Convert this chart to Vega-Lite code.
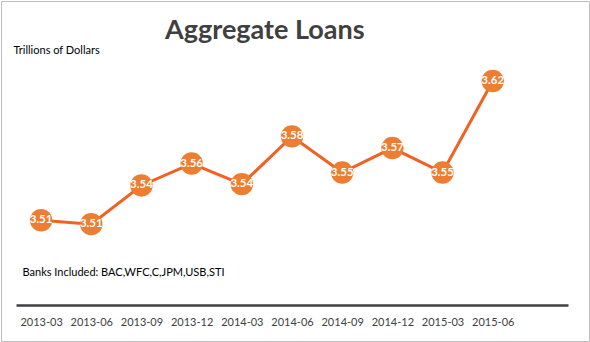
{
  "$schema": "https://vega.github.io/schema/vega-lite/v6.json",
  "width": 588,
  "height": 340,
  "padding": 1,
  "autosize": "none",
  "background": "white",
  "title": {
    "text": "Aggregate Loans",
    "anchor": "start",
    "frame": "group",
    "dx": 164,
    "offset": -44,
    "fontSize": 27,
    "font": "Lato",
    "fontWeight": "bold",
    "color": "#404040"
  },
  "data": {
    "values": [
      {"q": "2013-03", "v": 3.512},
      {"q": "2013-06", "v": 3.509},
      {"q": "2013-09", "v": 3.539},
      {"q": "2013-12", "v": 3.556},
      {"q": "2014-03", "v": 3.540},
      {"q": "2014-06", "v": 3.577},
      {"q": "2014-09", "v": 3.549},
      {"q": "2014-12", "v": 3.568},
      {"q": "2015-03", "v": 3.549},
      {"q": "2015-06", "v": 3.620}
    ]
  },
  "encoding": {
    "x": {
      "field": "q",
      "type": "ordinal",
      "sort": null,
      "scale": {
        "type": "point",
        "domain": ["2013-03","2013-06","2013-09","2013-12","2014-03","2014-06","2014-09","2014-12","2015-03","2015-06",""],
        "range": [15, 567],
        "padding": 0.5
      },
      "axis": {
        "orient": "bottom",
        "offset": -36,
        "title": "Banks Included: BAC,WFC,C,JPM,USB,STI",
        "titleFont": "Lato",
        "titleFontSize": 11,
        "titleFontWeight": "normal",
        "titleColor": "#000000",
        "titleAnchor": "start",
        "titleAlign": "left",
        "titleBaseline": "middle",
        "titleX": 21,
        "titleY": -33,
        "domainColor": "#404040",
        "domainWidth": 2.5,
        "ticks": false,
        "labelAngle": 0,
        "labelFont": "Lato",
        "labelFontSize": 11,
        "labelColor": "#404040",
        "labelPadding": 11,
        "grid": false
      }
    },
    "y": {
      "field": "v",
      "type": "quantitative",
      "scale": {"domain": [3.4184, 3.682], "nice": false, "zero": false},
      "axis": {
        "orient": "left",
        "domain": false,
        "ticks": false,
        "labels": false,
        "grid": false,
        "title": "Trillions of Dollars",
        "titleAngle": 0,
        "titleAlign": "left",
        "titleBaseline": "middle",
        "titleX": 12,
        "titleY": 49,
        "titleFont": "Lato",
        "titleFontSize": 11,
        "titleFontWeight": "normal",
        "titleColor": "#000000"
      }
    }
  },
  "layer": [
    {
      "mark": {"type": "line", "color": "#F26123", "strokeWidth": 3}
    },
    {
      "mark": {"type": "circle", "color": "#ED7D31", "opacity": 1, "size": 500}
    },
    {
      "mark": {"type": "text", "color": "white", "font": "Lato", "fontWeight": "bold", "fontSize": 11.5, "baseline": "middle", "align": "center"},
      "encoding": {"text": {"field": "v", "type": "quantitative", "format": ".2f"}}
    }
  ],
  "config": {
    "view": {"stroke": "#BFBFBF", "strokeWidth": 1}
  }
}
